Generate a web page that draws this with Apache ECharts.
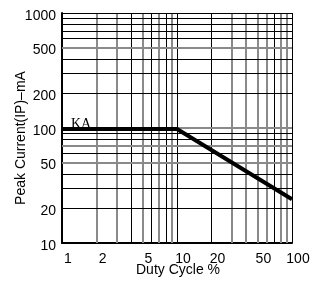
<!DOCTYPE html>
<html>
<head>
<meta charset="utf-8">
<script src="https://cdn.jsdelivr.net/npm/echarts@6/dist/echarts.min.js"></script>
<style>
  html, body { margin: 0; padding: 0; background: #fff; }
  #chart { width: 320px; height: 281px; }
</style>
</head>
<body>
<div id="chart"></div>
<script>
// curve: flat up to 10 %, then falling
let dutyCycle = [1, 10, 100];
let peakCurrent = [98, 98, 24];

// grid lines of the log-log paper
let xGrid = [1, 2, 3, 4, 5, 6, 7, 8, 9, 10, 20, 30, 40, 50, 60, 70, 80, 90, 100];
let yGrid = [10, 20, 30, 40, 50, 60, 70, 80, 90, 100, 200, 300, 400, 500, 600, 700, 800, 900, 1000];

// labelled ticks
let xTickLabels = [1, 2, 5, 10, 20, 50, 100];
let yTickLabels = [10, 20, 50, 100, 200, 500, 1000];

// lines printed in grey instead of black
let greyX = [2, 3, 5, 7, 9, 30, 40, 50, 60, 80, 90];
let greyY = [50, 70, 100, 500];

(function(){
    let font = '"Liberation Sans", Arial, sans-serif';

    function gridStyle(v, grey){
        if(grey.indexOf(v) >= 0) return {color: '#8a8a8a', width: 2, type: 'solid'};
        return {color: '#000', width: 1, type: 'solid'};
    }

    let lines = [];
    xGrid.forEach((v)=>{
        let hasLabel = xTickLabels.indexOf(v) >= 0;
        lines.push({
            xAxis: v,
            lineStyle: gridStyle(v, greyX),
            label: {
                show: hasLabel,
                formatter: String(v),
                position: 'start',
                distance: 5,
                offset: [6, 4],
                color: '#000',
                fontFamily: font,
                fontSize: 14
            }
        });
    });
    yGrid.forEach((v)=>{
        let hasLabel = yTickLabels.indexOf(v) >= 0;
        lines.push({
            yAxis: v,
            lineStyle: gridStyle(v, greyY),
            label: {
                show: hasLabel,
                formatter: String(v),
                position: 'start',
                distance: 6,
                offset: [0, 3],
                color: '#000',
                fontFamily: font,
                fontSize: 14
            }
        });
    });

    let points = dutyCycle.map((d, i)=>[d, peakCurrent[i]]);

    let chart = echarts.init(document.getElementById('chart'), null, {renderer: 'canvas'});
    chart.setOption({
        animation: false,
        backgroundColor: '#fff',
        grid: {left: 62, right: 28, top: 13, bottom: 38},
        xAxis: {
            type: 'log',
            logBase: 10,
            min: 1,
            max: 100,
            axisLine: {show: true, lineStyle: {color: '#000', width: 2}},
            axisTick: {show: false},
            axisLabel: {show: false},
            splitLine: {show: false}
        },
        yAxis: {
            type: 'log',
            logBase: 10,
            min: 10,
            max: 1000,
            axisLine: {show: true, lineStyle: {color: '#000', width: 2}},
            axisTick: {show: false},
            axisLabel: {show: false},
            splitLine: {show: false}
        },
        graphic: [
            {
                type: 'text',
                left: 136,
                top: 263,
                style: {text: 'Duty Cycle %', font: '14px ' + font, fill: '#000'}
            },
            {
                type: 'text',
                x: 21,
                y: 138,
                rotation: Math.PI / 2,
                style: {
                    text: 'Peak Current(IP)–mA',
                    font: '14px ' + font,
                    fill: '#000',
                    align: 'center',
                    verticalAlign: 'middle'
                }
            },
            {
                type: 'text',
                left: 71,
                top: 117,
                style: {text: 'KA', font: '14px "Liberation Serif", serif', fill: '#000'}
            }
        ],
        series: [{
            type: 'line',
            data: points,
            symbol: 'none',
            z: 5,
            lineStyle: {color: '#000', width: 4},
            markLine: {
                silent: true,
                symbol: ['none', 'none'],
                animation: false,
                z: 2,
                data: lines
            }
        }]
    });
})();
</script>
</body>
</html>
